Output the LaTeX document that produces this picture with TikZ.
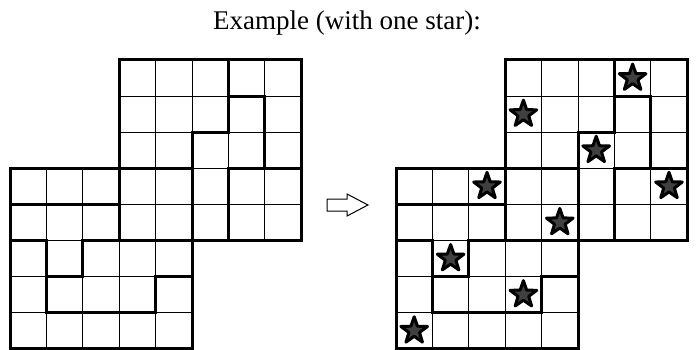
\documentclass[tikz,border=0pt]{standalone}
\usepackage{fontspec}
\setmainfont{Liberation Serif}
\usetikzlibrary{shapes.geometric}
\begin{document}
\begin{tikzpicture}[x=1pt,y=-1pt,
  thinline/.style={line width=1pt, black},
  thickline/.style={line width=3pt, black, line cap=rect, line join=miter},
  starmark/.style={star, star points=5, star point ratio=2.5, draw=black, fill=black!75,
     line width=3pt, line join=round, inner sep=0pt, minimum size=28pt},
  arrowshape/.style={line width=1pt, black, fill=white, line join=miter}]
\useasboundingbox (0,0) rectangle (699,350);
\node[font=\fontsize{27}{30}\selectfont, anchor=base, inner sep=0pt] (title) at (347,30) {Example (with one star):};
\foreach \xo/\gname in {10/left,396/right} {
\begin{scope}[shift={(\xo,60)}, x=36.4pt, y=-36.1pt]
  \foreach \i in {0,...,5} {
    \draw[thinline] (3+\i,0) -- (3+\i,5);
    \draw[thinline] (3,\i) -- (8,\i);
    \draw[thinline] (\i,3) -- (\i,8);
    \draw[thinline] (0,3+\i) -- (5,3+\i);
  }
  \draw[thickline] (3,0) rectangle (8,5);
  \draw[thickline] (0,3) rectangle (5,8);
  \draw[thickline] (6,0) -- (6,2) -- (5,2) -- (5,3);
  \draw[thickline] (6,1) -- (7,1) -- (7,3) -- (8,3);
  \draw[thickline] (6,3) -- (7,3);
  \draw[thickline] (6,3) -- (6,5);
  \draw[thickline] (0,4) -- (3,4);
  \draw[thickline] (0,5) -- (1,5) -- (1,7) -- (4,7) -- (4,6) -- (5,6);
  \draw[thickline] (2,5) -- (3,5);
  \draw[thickline] (1,6) -- (2,6) -- (2,5);
\end{scope}
}
\begin{scope}[shift={(396,60)}, x=36.4pt, y=-36.1pt]
  \foreach \r/\c/\n in {0/6/1,1/3/2,2/5/3,3/2/4,3/7/5,4/4/6,5/1/7,6/3/8,7/0/9} {
    \node[starmark] (s\n) at (\c+0.5,\r+0.5) {};
  }
\end{scope}
\draw[arrowshape] (327,199) -- (347,199) -- (347,194) -- (368,205) -- (347,216) -- (347,211) -- (327,211) -- cycle;
\end{tikzpicture}
\end{document}
